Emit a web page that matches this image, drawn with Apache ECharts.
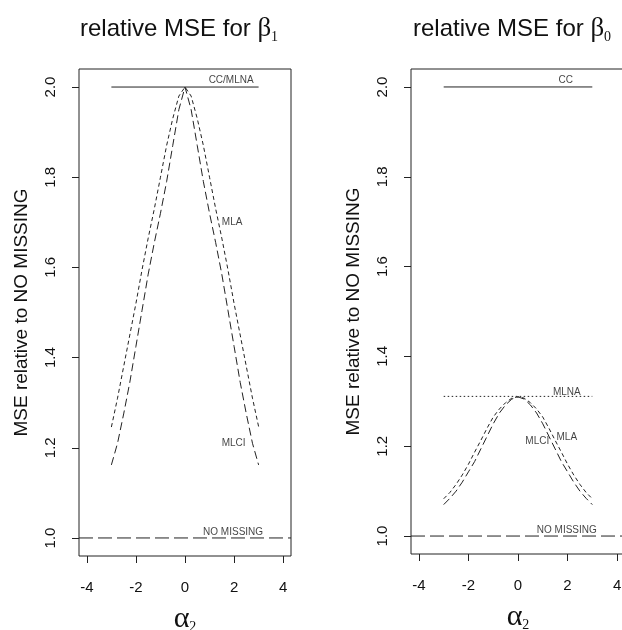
<!DOCTYPE html>
<html>
<head>
    <meta charset="utf-8">
    <script src="https://cdn.jsdelivr.net/npm/echarts@6/dist/echarts.min.js"></script>
</head>
<body style="margin:0">
    <div id="main" style="width:622px;height:630px"></div>

    <script type="text/javascript">
        // alpha2 grid shared by all curves
        var alpha2 = [-3, -2.75, -2.5, -2.25, -2, -1.75, -1.5, -1.25, -1, -0.75, -0.5, -0.25, 0,
                      0.25, 0.5, 0.75, 1, 1.25, 1.5, 1.75, 2, 2.25, 2.5, 2.75, 3];

        // relative MSE for beta1
        var b1MLA  = [1.246, 1.31, 1.38, 1.45, 1.52, 1.595, 1.665, 1.73, 1.80, 1.87, 1.93, 1.98, 2.0,
                      1.98, 1.93, 1.87, 1.80, 1.73, 1.665, 1.595, 1.52, 1.45, 1.38, 1.31, 1.247];
        var b1MLCI = [1.162, 1.21, 1.275, 1.345, 1.425, 1.505, 1.585, 1.655, 1.72, 1.79, 1.87, 1.95, 2.0,
                      1.95, 1.87, 1.79, 1.72, 1.655, 1.585, 1.505, 1.425, 1.345, 1.275, 1.21, 1.162];

        // relative MSE for beta0
        var b0MLA  = [1.083, 1.097, 1.115, 1.136, 1.160, 1.187, 1.213, 1.240, 1.265, 1.283, 1.297, 1.307, 1.310,
                      1.307, 1.297, 1.283, 1.265, 1.240, 1.213, 1.187, 1.160, 1.136, 1.115, 1.097, 1.083];
        var b0MLCI = [1.070, 1.084, 1.100, 1.120, 1.143, 1.166, 1.194, 1.222, 1.250, 1.274, 1.292, 1.305, 1.310,
                      1.305, 1.292, 1.274, 1.250, 1.222, 1.194, 1.166, 1.143, 1.120, 1.100, 1.084, 1.070];

        // flat reference lines
        var flatX = [-3, 3];
        var b1CC = [2.0, 2.0];      // CC/MLNA
        var b0CC = [2.0, 2.0];      // CC
        var b0MLNA = [1.311, 1.311];
        var noMissX = [-4.32, 4.32];
        var noMissY = [1.0, 1.0];

        var xLim = [-4.32, 4.32];
        var yLim = [0.96, 2.04];
        var xTicks = [-4, -2, 0, 2, 4];
        var yTicks = [1.0, 1.2, 1.4, 1.6, 1.8, 2.0];

        // curve labels
        var b1Names = ['CC/MLNA', 'MLA', 'MLCI', 'NO MISSING'];
        var b1NameX = [1.88, 1.92, 1.98, 1.96];
        var b1NameY = [2.016, 1.70, 1.211, 1.013];
        var b0Names = ['CC', 'MLNA', 'MLCI', 'MLA', 'NO MISSING'];
        var b0NameX = [1.93, 1.97, 0.78, 1.97, 1.97];
        var b0NameY = [2.016, 1.32, 1.21, 1.219, 1.014];

        var ink = '#222';
        var sans = 'Liberation Sans';
        var serif = 'Liberation Serif';

        function pairs(xs, ys) {
            var out = [];
            for (var i = 0; i < xs.length; i++) out.push([xs[i], ys[i]]);
            return out;
        }

        function line(idx, xs, ys, dash) {
            return {
                type: 'line', xAxisIndex: idx, yAxisIndex: idx,
                data: pairs(xs, ys), showSymbol: false, silent: true,
                lineStyle: { color: ink, width: 1, type: dash }
            };
        }

        function notes(idx, names, xs, ys) {
            var d = [];
            for (var i = 0; i < names.length; i++) d.push({ name: names[i], value: [xs[i], ys[i]] });
            return {
                type: 'scatter', xAxisIndex: idx, yAxisIndex: idx, data: d,
                symbolSize: 1, itemStyle: { color: 'rgba(0,0,0,0)' }, silent: true,
                label: { show: true, position: 'inside', formatter: '{b}',
                         fontFamily: sans, fontSize: 10, color: '#111' }
            };
        }

        function xAxis(idx) {
            return {
                gridIndex: idx, type: 'value', min: xLim[0], max: xLim[1],
                name: '{a|α}{b|2}', nameLocation: 'middle', nameGap: 48,
                nameTextStyle: { rich: {
                    a: { fontFamily: serif, fontSize: 30, color: '#111', lineHeight: 30 },
                    b: { fontFamily: serif, fontSize: 14, color: '#111', lineHeight: 30, verticalAlign: 'bottom' }
                } },
                axisLine: { show: false, onZero: false },
                axisTick: { show: true, length: 7, customValues: xTicks, lineStyle: { color: ink } },
                axisLabel: { customValues: xTicks, margin: 24, fontFamily: sans, fontSize: 15, color: '#111' },
                splitLine: { show: false }
            };
        }

        function yAxis(idx) {
            return {
                gridIndex: idx, type: 'value', min: yLim[0], max: yLim[1],
                name: 'MSE relative to NO MISSING', nameLocation: 'middle', nameRotate: 90, nameGap: 48,
                nameTextStyle: { fontFamily: sans, fontSize: 19, color: '#111' },
                axisLine: { show: false, onZero: false },
                axisTick: { show: true, length: 7, customValues: yTicks, lineStyle: { color: ink } },
                axisLabel: { customValues: yTicks, rotate: 90, margin: 21, fontFamily: sans, fontSize: 15,
                             color: '#111', formatter: function (v) { return v.toFixed(1); } },
                splitLine: { show: false }
            };
        }

        var titleRich = {
            a: { fontFamily: sans, fontSize: 24, fontWeight: 'normal', color: '#111', lineHeight: 30 },
            b: { fontFamily: serif, fontSize: 27, fontWeight: 'normal', color: '#111', lineHeight: 30 },
            c: { fontFamily: serif, fontSize: 14, fontWeight: 'normal', color: '#111', lineHeight: 30, verticalAlign: 'bottom' }
        };

        var myChart = echarts.init(document.getElementById('main'));
        var option = {
            animation: false,
            backgroundColor: '#fff',
            title: [
                { text: '{a|relative MSE for }{b|β}{c|1}', left: 80, top: 14, padding: 0, textStyle: { fontWeight: 'normal', rich: titleRich } },
                { text: '{a|relative MSE for }{b|β}{c|0}', left: 413, top: 14, padding: 0, textStyle: { fontWeight: 'normal', rich: titleRich } }
            ],
            grid: [
                { left: 79, top: 69, width: 212, height: 487, show: true, borderColor: ink, borderWidth: 1, outerBoundsMode: 'none' },
                { left: 411, top: 69, width: 214, height: 485, show: true, borderColor: ink, borderWidth: 1, outerBoundsMode: 'none' }
            ],
            xAxis: [xAxis(0), xAxis(1)],
            yAxis: [yAxis(0), yAxis(1)],
            series: [
                line(0, flatX, b1CC, 'solid'),
                line(0, alpha2, b1MLA, [4, 3]),
                line(0, alpha2, b1MLCI, [8, 4]),
                line(0, noMissX, noMissY, [14, 5]),
                notes(0, b1Names, b1NameX, b1NameY),
                line(1, flatX, b0CC, 'solid'),
                line(1, flatX, b0MLNA, [1.5, 2.5]),
                line(1, alpha2, b0MLA, [4, 3]),
                line(1, alpha2, b0MLCI, [8, 4]),
                line(1, noMissX, noMissY, [14, 5]),
                notes(1, b0Names, b0NameX, b0NameY)
            ]
        };
        myChart.setOption(option);
    </script>
</body>
</html>
